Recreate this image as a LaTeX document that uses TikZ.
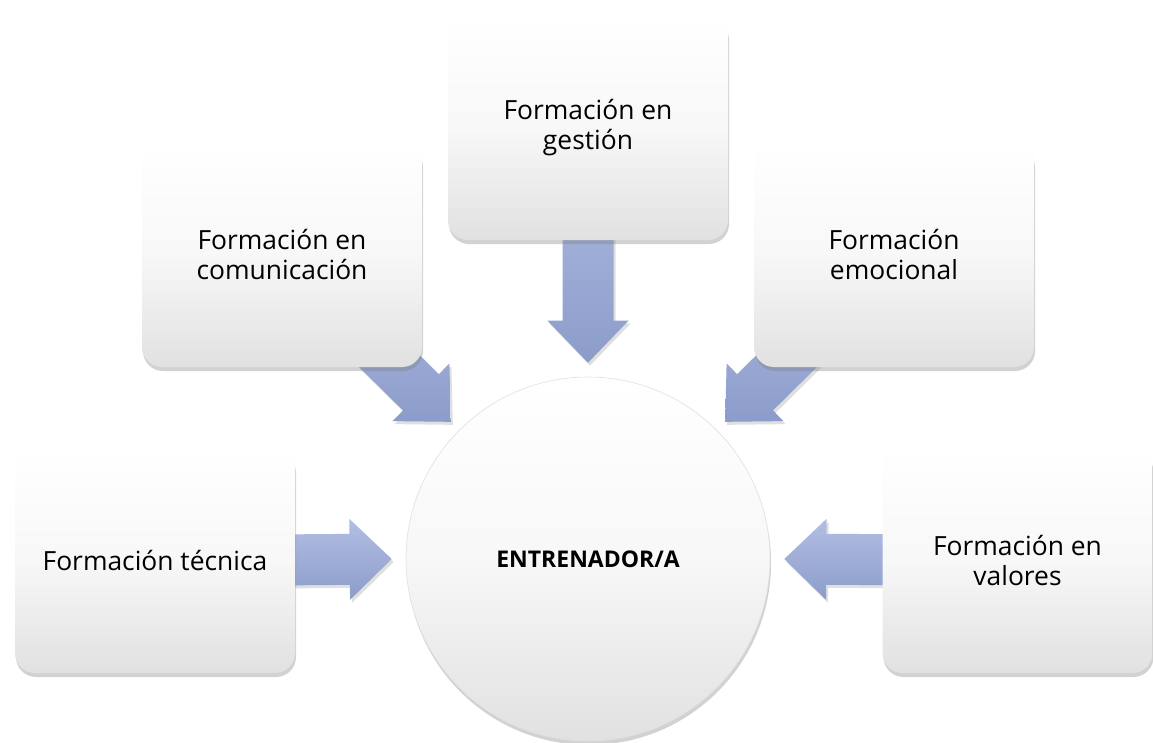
\documentclass[tikz,border=0pt]{standalone}
\usepackage{fontspec}
\setmainfont{Open Sans}
\usetikzlibrary{calc,shadows,backgrounds}
\definecolor{arrowtop}{RGB}{178,191,228}
\definecolor{arrowbot}{RGB}{140,156,202}
\definecolor{boxbot}{RGB}{225,225,225}
\tikzset{
  card/.style={rectangle, rounded corners=20pt, minimum width=280pt, minimum height=224pt,
    inner sep=0pt, align=center, top color=white, bottom color=boxbot,
    middle color=white!75!boxbot,
    font=\fontsize{26.4}{30}\selectfont,
    drop shadow={shadow xshift=1pt, shadow yshift=-4pt, opacity=0.35}},
  hub/.style={circle, minimum size=364pt, inner sep=0pt, top color=white, bottom color=boxbot,
    middle color=white!75!boxbot,
    draw=black!12, line width=0.6pt, font=\fontsize{23}{30}\selectfont\bfseries,
    drop shadow={shadow xshift=1pt, shadow yshift=-4pt, opacity=0.35}},
  blockarrow/.style={top color=arrowtop, bottom color=arrowbot,
    drop shadow={shadow xshift=2pt, shadow yshift=-3pt, opacity=0.25}}
}
\newcommand\flowarrow[3]{%
  \coordinate (#3) at ($(#2)!42pt!(#1)$);
  \path[blockarrow] ($(#1)!25.5pt!90:(#2)$) -- ($(#3)!25.5pt!-90:(#1)$)
    -- ($(#3)!40.5pt!-90:(#1)$) -- (#2) -- ($(#3)!40.5pt!90:(#1)$)
    -- ($(#3)!25.5pt!90:(#1)$) -- ($(#1)!25.5pt!-90:(#2)$) -- cycle;
}
\begin{document}
\begin{tikzpicture}[x=1pt,y=1pt]
\useasboundingbox (0,0) rectangle (1153,-742);
\node[hub] (ctr) at (588,-559) {ENTRENADOR/A};
\node[card] (tec) at (155,-561) {Formación técnica};
\node[card] (com) at (282,-255) {Formación en\\comunicación};
\node[card] (ges) at (588,-128) {Formación en\\gestión};
\node[card] (emo) at (894,-255) {Formación\\emocional};
\node[card, minimum width=270pt, minimum height=225pt] (val) at (1017.5,-560.5) {Formación en\\valores};
\coordinate (t1) at ($(ctr.west)+(-14,0)$);
\coordinate (t2) at ($(ctr.center)!194pt!(ctr.north west)$);
\coordinate (t3) at ($(ctr.north)+(0,14)$);
\coordinate (t4) at ($(ctr.center)!194pt!(ctr.north east)$);
\coordinate (t5) at ($(ctr.east)+(14,0)$);
\begin{scope}[on background layer]
  \fill[white] (0,0) rectangle (1153,-742);
  \flowarrow{tec.center}{t1}{h1}
  \flowarrow{com.center}{t2}{h2}
  \flowarrow{ges.center}{t3}{h3}
  \flowarrow{emo.center}{t4}{h4}
  \flowarrow{val.center}{t5}{h5}
\end{scope}
\end{tikzpicture}
\end{document}
